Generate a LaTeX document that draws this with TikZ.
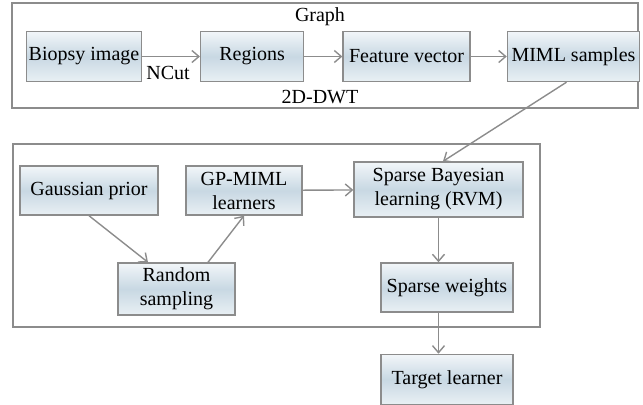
\documentclass[tikz,border=0pt]{standalone}
\usepackage{fontspec}
\setmainfont{Liberation Serif}
\usetikzlibrary{positioning, arrows.meta}
\definecolor{BoxTop}{HTML}{F2F6F9}
\definecolor{BoxMid}{HTML}{C8D8E3}
\definecolor{BoxBot}{HTML}{E9F0F4}
\definecolor{LineGray}{HTML}{8C8C8C}

\begin{document}
\begin{tikzpicture}[
  x=0.5pt, y=-0.5pt, every node/.style={font=\rmfamily\fontsize{10}{12}\selectfont},
  box/.style={draw=LineGray, line width=0.7pt, top color=BoxTop, bottom color=BoxBot,
    middle color=BoxMid, minimum height=25pt, inner sep=1pt, align=center},
  frame/.style={draw=LineGray, line width=0.7pt},
  arr/.style={-{Straight Barb[length=3.5pt, width=6pt]}, line width=0.7pt, LineGray}
]
  \useasboundingbox (0,0) rectangle (643,404);

  % Frames
  \draw[frame] (12,3) rectangle (638,108);
  \draw[frame] (13,144) rectangle (540,327);

  % Top row
  \node[box, minimum width=57pt] (bio) at (84,56.5) {Biopsy image};
  \node[box, right=29pt of bio, minimum width=51.5pt] (reg) {Regions};
  \node[box, right=19pt of reg, minimum width=63.5pt] (feat) {Feature vector};
  \node[box, right=18pt of feat, minimum width=66pt] (miml) {MIML samples};

  % Labels of the top frame
  \node (graph) at (320,17) {Graph};
  \node (ncut) at (168,73) {NCut};
  \node (dwt) at (320,97) {2D-DWT};

  % Bottom frame
  \node[box, minimum width=69pt, minimum height=24.5pt] (gauss) at (89,190.5) {Gaussian prior};
  \node[box, minimum width=58pt, minimum height=24.5pt] (gp) at (244,190.5) {GP-MIML\\learners};
  \node[box, minimum width=58.5pt, minimum height=26pt] (rand) at (176.5,289) {Random\\sampling};
  \node[box, minimum width=84.5pt, minimum height=27.5pt] (sbl) at (438.5,189.5) {Sparse Bayesian\\learning (RVM)};
  \node[box, minimum width=66pt, minimum height=24.5pt] (sw) at (447,287.5) {Sparse weights};

  % Output
  \node[box, below=20.5pt of sw, minimum width=66pt] (target) {Target learner};

  % Arrows
  \draw[arr] (bio) -- (reg);
  \draw[arr] (reg) -- (feat);
  \draw[arr] (feat) -- (miml);
  \draw[arr] ([xshift=-3.5pt]miml.south) -- ([xshift=2.25pt]sbl.north);
  \draw[arr] (gauss.south) -- ([xshift=-14.25pt]rand.north);
  \draw[arr] ([xshift=15.75pt]rand.north) -- (gp.south);
  \draw[arr] (gp) -- (sbl);
  \draw[arr] (sbl.south) -- (sbl.south |- sw.north);
  \draw[arr] (sbl.south |- sw.south) -- (sbl.south |- target.north);
\end{tikzpicture}
\end{document}
